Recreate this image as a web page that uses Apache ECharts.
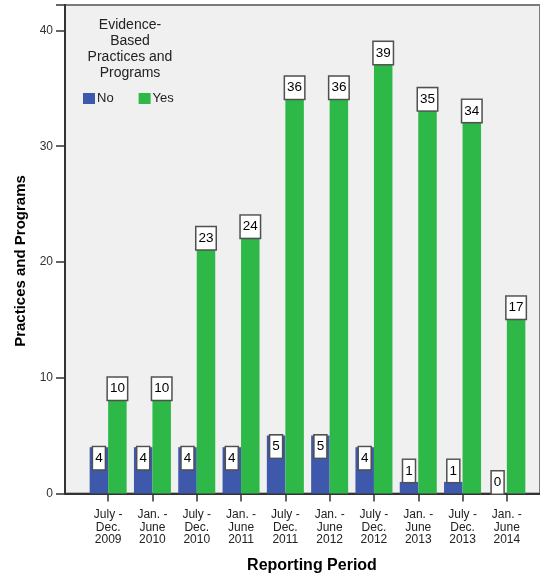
<!DOCTYPE html>
<html>
<head>
<meta charset="utf-8">
<script src="https://cdn.jsdelivr.net/npm/echarts@6/dist/echarts.min.js"></script>
<style>
  html, body { margin: 0; padding: 0; background: #ffffff; }
  #chart { width: 540px; height: 577px; }
</style>
</head>
<body>
<div id="chart"></div>
<script>
// Reporting periods along the horizontal axis
const periods = [
  'July -\nDec.\n2009', 'Jan. -\nJune\n2010', 'July -\nDec.\n2010', 'Jan. -\nJune\n2011',
  'July -\nDec.\n2011', 'Jan. -\nJune\n2012', 'July -\nDec.\n2012', 'Jan. -\nJune\n2013',
  'July -\nDec.\n2013', 'Jan. -\nJune\n2014'
];
// Counts of practices and programs, split by evidence base
const noValues  = [4, 4, 4, 4, 5, 5, 4, 1, 1, 0];
const yesValues = [10, 10, 23, 24, 36, 36, 39, 35, 34, 17];
const seriesNames = ['No', 'Yes'];
const yTicks = [0, 10, 20, 30, 40];

const FONT = '"Liberation Sans", Arial, sans-serif';
const BLUE = '#3E58AC';
const GREEN = '#2EB848';

// Value boxes sit inside the top of a bar when it is tall enough, otherwise just above it
function withLabels(values) {
  return values.map(v => ({
    value: v,
    label: v >= 2
      ? { position: 'insideTop', distance: 0 }
      : { position: 'top', distance: 0 }
  }));
}

const labelStyle = {
  show: true,
  color: '#000',
  fontFamily: FONT,
  fontSize: 13.5,
  lineHeight: 16,
  backgroundColor: '#ffffff',
  borderColor: '#505050',
  borderWidth: 1.5,
  padding: [3, 2, 3, 2]
};

const chart = echarts.init(document.getElementById('chart'), null, { renderer: 'canvas' });

chart.setOption({
  animation: false,
  textStyle: { fontFamily: FONT },
  grid: [
    // frame and value axis
    { left: 65, right: -6, top: 5, bottom: 83.5, show: true, backgroundColor: '#F0F0F0',
      borderColor: '#7a7a7a', borderWidth: 2, containLabel: false },
    // bar area
    { left: 86, right: 11, top: 5, bottom: 83.5, containLabel: false }
  ],
  xAxis: [
    { gridIndex: 0, type: 'value', min: 0, max: 1,
      axisLine: { show: true, onZero: false, lineStyle: { color: '#333', width: 2 } },
      axisTick: { show: false }, axisLabel: { show: false }, splitLine: { show: false } },
    { gridIndex: 1, type: 'category', data: periods,
      axisLine: { show: false },
      axisTick: { show: true, alignWithLabel: true, length: 8, lineStyle: { color: '#333', width: 1.5 } },
      axisLabel: { color: '#222', fontSize: 12, lineHeight: 12.5, margin: 15, interval: 0, fontFamily: FONT },
      splitLine: { show: false } }
  ],
  yAxis: [
    { gridIndex: 0, type: 'value', min: 0, max: 42.2, interval: 10,
      axisLine: { show: true, lineStyle: { color: '#333', width: 2 } },
      axisTick: { show: true, length: 9, lineStyle: { color: '#333', width: 1.5 } },
      axisLabel: { color: '#333', fontSize: 12, margin: 12, fontFamily: FONT,
        customValues: yTicks },
      splitLine: { show: false } },
    { gridIndex: 1, type: 'value', min: 0, max: 42.2, show: false, splitLine: { show: false } }
  ],
  legend: {
    data: seriesNames,
    left: 83, top: 92, padding: 0,
    itemWidth: 12, itemHeight: 11, itemGap: 25,
    icon: 'rect',
    textStyle: { color: '#222', fontSize: 13, fontFamily: FONT, padding: [0, 0, 0, -3] }
  },
  series: [
    { name: seriesNames[0], type: 'bar', xAxisIndex: 1, yAxisIndex: 1,
      data: withLabels(noValues), barWidth: 18.5, barGap: '0%',
      itemStyle: { color: BLUE }, label: labelStyle },
    { name: seriesNames[1], type: 'bar', xAxisIndex: 1, yAxisIndex: 1,
      data: withLabels(yesValues), barWidth: 18.5, barGap: '0%',
      itemStyle: { color: GREEN }, label: labelStyle }
  ],
  graphic: [
    { type: 'text', x: 130, y: 17,
      style: { text: 'Evidence-\nBased\nPractices and\nPrograms', align: 'center',
        font: '14px ' + FONT, lineHeight: 16, fill: '#222' } },
    { type: 'text', x: 21, y: 261, rotation: Math.PI / 2,
      style: { text: 'Practices and Programs', align: 'center', verticalAlign: 'middle',
        font: 'bold 15px ' + FONT, fill: '#000' } },
    { type: 'text', x: 312, y: 566,
      style: { text: 'Reporting Period', align: 'center', verticalAlign: 'middle',
        font: 'bold 16px ' + FONT, fill: '#000' } }
  ]
});
</script>
</body>
</html>
